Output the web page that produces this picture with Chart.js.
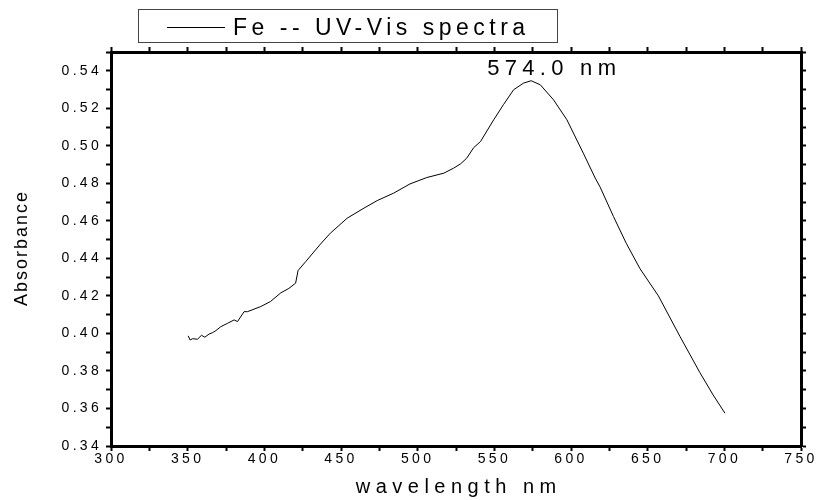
<!DOCTYPE html>
<html>
<head>
<meta charset="utf-8">
<script src="https://cdn.jsdelivr.net/npm/chart.js@4"></script>
<style>
  body { margin: 0; background: #fff; }
</style>
</head>
<body>
<canvas id="uvChart" width="821" height="500"></canvas>
<script>
// spectrum
const wavelength = [350.3, 351.6, 353.2, 356.4, 359, 361.2, 364, 366.2, 368.4, 371.6, 376, 380.3, 382.5, 386.8,
    389, 397.6, 404, 410.7, 416, 420.4, 422, 427, 436.7, 443, 454, 465, 473.6, 484.4, 495, 506, 517, 523.5,
    528, 532, 536.5, 541, 549.6, 556, 562.6, 569, 574, 580, 588.6, 597.3, 608, 615.8, 619, 627.7, 636,
    645, 657, 671, 684, 692.7, 700.4];
const absorbance = [0.3987, 0.3965, 0.3972, 0.3969, 0.3990, 0.3980, 0.3997, 0.4004, 0.4015, 0.4036, 0.4054, 0.4072, 0.4063, 0.4116,
    0.4116, 0.4143, 0.4170, 0.4216, 0.4240, 0.4268, 0.4335, 0.4383, 0.4477, 0.4534, 0.4614, 0.4668, 0.4708, 0.4748, 0.4797, 0.4831, 0.4854, 0.4881,
    0.4904, 0.4934, 0.4990, 0.5023, 0.5139, 0.5220, 0.5299, 0.5334, 0.5347, 0.5325, 0.5245, 0.5139, 0.4961, 0.4828, 0.4780, 0.4623, 0.4481,
    0.4345, 0.4200, 0.3985, 0.3792, 0.3672, 0.3575];

const seriesLabel = 'Fe -- UV-Vis spectra';
const xTitle = 'wavelength nm';
const yTitle = 'Absorbance';
const xRange = [300, 750];
const yRange = [0.34, 0.55];

const points = wavelength.map((w, i) => ({ x: w, y: absorbance[i] }));

const FONT = "'Liberation Sans', Arial, sans-serif";

// spaced-out text like the original plot
const spacing = {
    id: 'spacing',
    beforeUpdate: (chart) => { chart.ctx.letterSpacing = '3.3px'; },
    beforeDraw: (chart) => { chart.ctx.letterSpacing = '3.3px'; }
};

const spacedText = (ctx, text, x, y, font, gap, align) => {
    ctx.save();
    ctx.font = font;
    ctx.letterSpacing = gap + 'px';
    ctx.fillStyle = '#000';
    ctx.textAlign = align || 'left';
    let dx = align === 'center' ? gap / 2 : 0;
    ctx.fillText(text, x + dx, y);
    ctx.restore();
};

const extras = {
    id: 'extras',
    afterDraw: (chart) => {
        const ctx = chart.ctx;
        const area = chart.chartArea;
        const xs = chart.scales.x;
        const ys = chart.scales.y;

        // legend box
        ctx.save();
        ctx.strokeStyle = '#444';
        ctx.lineWidth = 1;
        ctx.strokeRect(138.5, 9.5, 419, 33);
        ctx.strokeStyle = '#000';
        ctx.beginPath();
        ctx.moveTo(167, 27.5);
        ctx.lineTo(225, 27.5);
        ctx.stroke();
        ctx.restore();
        spacedText(ctx, seriesLabel, 233, 35, '23px ' + FONT, 4.5);

        // peak label
        let peak = 0;
        absorbance.forEach((v, i) => { if (v > absorbance[peak]) peak = i; });
        const px = xs.getPixelForValue(wavelength[peak]);
        const py = ys.getPixelForValue(absorbance[peak]);
        spacedText(ctx, wavelength[peak].toFixed(1) + ' nm', px - 44, py - 6, '22px ' + FONT, 5.3);

        // axis titles
        ctx.save();
        ctx.textBaseline = 'middle';
        spacedText(ctx, xTitle, (area.left + area.right) / 2, 487, '20px ' + FONT, 5.5, 'center');
        ctx.translate(22, (area.top + area.bottom) / 2);
        ctx.rotate(-Math.PI / 2);
        spacedText(ctx, yTitle, 0, 0, '18px ' + FONT, 2, 'center');
        ctx.restore();
    }
};

const gridOpts = {
    drawOnChartArea: false,
    drawTicks: true,
    tickLength: 5,
    tickColor: '#000',
    tickWidth: 2
};
const borderOpts = { display: true, color: '#000', width: 3 };

const ctx = document.getElementById('uvChart');
const uvChart = new Chart(ctx, {
    type: 'line',
    data: {
        datasets: [{
            label: seriesLabel,
            data: points,
            borderColor: '#000',
            borderWidth: 1,
            pointRadius: 0,
            tension: 0,
            fill: false
        }]
    },
    options: {
        responsive: false,
        animation: false,
        layout: { padding: { top: 46, left: 0, right: 0, bottom: 0 } },
        plugins: {
            legend: { display: false },
            tooltip: { enabled: false }
        },
        scales: {
            x: {
                type: 'linear',
                position: 'bottom',
                min: xRange[0],
                max: xRange[1],
                grid: gridOpts,
                border: borderOpts,
                afterFit: (scale) => { scale.height = 54; },
                ticks: {
                    stepSize: 25,
                    padding: 0,
                    maxRotation: 0,
                    autoSkip: false,
                    color: '#000',
                    font: { family: FONT, size: 14 },
                    callback: (v) => (v % 50 === 0 ? String(v) : '')
                }
            },
            x2: {
                type: 'linear',
                position: 'top',
                min: xRange[0],
                max: xRange[1],
                grid: gridOpts,
                border: borderOpts,
                afterFit: (scale) => { scale.height = 6; },
                ticks: { stepSize: 25, display: false }
            },
            y: {
                type: 'linear',
                position: 'left',
                min: yRange[0],
                max: yRange[1],
                grid: gridOpts,
                border: borderOpts,
                afterFit: (scale) => { scale.width = 111; },
                ticks: {
                    stepSize: 0.01,
                    padding: 4,
                    autoSkip: false,
                    color: '#000',
                    font: { family: FONT, size: 14 },
                    callback: (v) => (Math.round(v * 100) % 2 === 0 ? v.toFixed(2) : '')
                }
            },
            y2: {
                type: 'linear',
                position: 'right',
                min: yRange[0],
                max: yRange[1],
                grid: gridOpts,
                border: borderOpts,
                afterFit: (scale) => { scale.width = 20; },
                ticks: { stepSize: 0.01, display: false }
            }
        }
    },
    plugins: [spacing, extras]
});
</script>
</body>
</html>
